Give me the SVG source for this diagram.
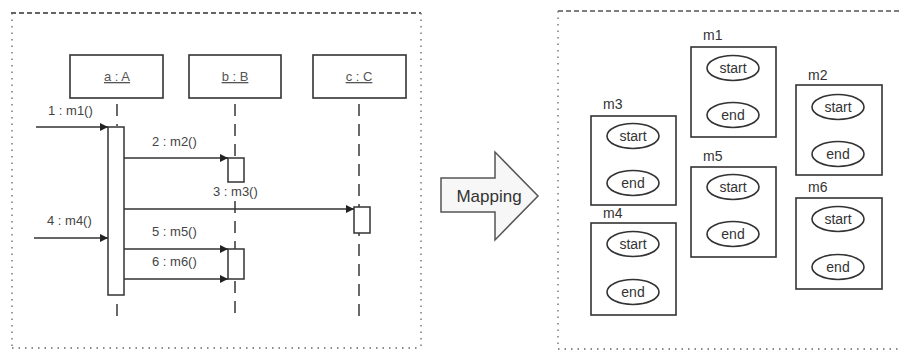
<svg xmlns="http://www.w3.org/2000/svg" width="901" height="351" viewBox="0 0 901 351">
<defs>
<marker id="ah" viewBox="0 0 10 10" refX="10" refY="5" markerWidth="8" markerHeight="8" markerUnits="userSpaceOnUse" orient="auto">
<path d="M0,0 L10,5 L0,10 z" fill="#222"/>
</marker>
<style>
.frame-top{fill:none;stroke:#333;stroke-width:1.3;stroke-dasharray:5 3}
.frame-side{fill:none;stroke:#666;stroke-width:1.3;stroke-dasharray:1.5 5}
.box{fill:#fff;stroke:#333;stroke-width:1.6}
.life{fill:none;stroke:#444;stroke-width:1.6;stroke-dasharray:12 8}
.act{fill:#fff;stroke:#333;stroke-width:1.5}
.msg{fill:none;stroke:#333;stroke-width:1.5;marker-end:url(#ah)}
.lbl{font-family:"Liberation Sans",Arial,sans-serif;font-size:13px;fill:#444}
.obj{font-family:"Liberation Sans",Arial,sans-serif;font-size:13px;fill:#555;text-decoration:underline;text-anchor:middle}
.mbox{fill:#fff;stroke:#333;stroke-width:1.6}
.ell{fill:#fff;stroke:#333;stroke-width:1.6}
.etxt{font-family:"Liberation Sans",Arial,sans-serif;font-size:14px;fill:#333;text-anchor:middle}
.mlbl{font-family:"Liberation Sans",Arial,sans-serif;font-size:14px;fill:#333}
</style>
</defs>
<rect width="901" height="351" fill="#fff"/>

<g id="left-frame">
<line class="frame-top" x1="11" y1="13" x2="421" y2="13"/>
<line class="frame-side" x1="12" y1="13" x2="12" y2="348"/>
<line class="frame-side" x1="421" y1="13" x2="421" y2="348"/>
<line class="frame-side" x1="12" y1="348" x2="421" y2="348"/>
</g>

<g id="right-frame">
<line class="frame-top" x1="558" y1="11" x2="901" y2="11" style="stroke:#555"/>
<line class="frame-side" x1="558" y1="11" x2="558" y2="349"/>
<line class="frame-side" x1="558" y1="349" x2="901" y2="349"/>
</g>

<g id="lifelines">
<line class="life" x1="117" y1="104" x2="117" y2="126"/>
<line class="life" x1="117" y1="304" x2="117" y2="320"/>
<line class="life" x1="235" y1="104" x2="235" y2="158"/>
<line class="life" x1="235" y1="201" x2="235" y2="320"/>
<line class="life" x1="359" y1="104" x2="359" y2="320"/>
</g>

<g id="obj-a"><rect class="box" x="70" y="55" width="93" height="43"/><text class="obj" x="117" y="81">a : A</text></g>
<g id="obj-b"><rect class="box" x="189" y="55" width="92" height="43"/><text class="obj" x="235" y="81">b : B</text></g>
<g id="obj-c"><rect class="box" x="313" y="55" width="93" height="43"/><text class="obj" x="359" y="81">c : C</text></g>

<g id="act-a"><rect class="act" x="108" y="127" width="16" height="168"/></g>
<g id="act-b1"><rect class="act" x="228" y="158" width="16" height="24"/></g>
<g id="act-b2"><rect class="act" x="228" y="249" width="16" height="30"/></g>
<g id="act-c"><rect class="act" x="354" y="207" width="16" height="26"/></g>

<g id="connectors">
<line class="msg" x1="36" y1="127" x2="108" y2="127"/>
<line class="msg" x1="124" y1="158" x2="228" y2="158"/>
<line class="msg" x1="124" y1="209" x2="354" y2="209"/>
<line class="msg" x1="34" y1="238" x2="108" y2="238"/>
<line class="msg" x1="124" y1="249" x2="228" y2="249"/>
<line class="msg" x1="124" y1="279" x2="228" y2="279"/>
</g>

<g id="msg-labels">
<text class="lbl" x="48" y="115">1 : m1()</text>
<text class="lbl" x="152" y="146">2 : m2()</text>
<text class="lbl" x="213" y="196">3 : m3()</text>
<text class="lbl" x="47" y="225">4 : m4()</text>
<text class="lbl" x="152" y="236">5 : m5()</text>
<text class="lbl" x="152" y="266">6 : m6()</text>
</g>

<g id="mapping-arrow">
<path d="M441,178 L495,178 L495,152 L538,196 L495,240 L495,212 L441,212 Z" fill="#f7f7f7" stroke="#555" stroke-width="1.5"/>
<text x="489" y="202" font-family="Liberation Sans, Arial, sans-serif" font-size="17" fill="#333" text-anchor="middle">Mapping</text>
</g>

<g id="m1">
<text class="mlbl" x="703" y="40">m1</text>
<rect class="mbox" x="691" y="47" width="85" height="90"/>
<ellipse class="ell" cx="733" cy="68" rx="26" ry="12.5"/><text class="etxt" x="733" y="73">start</text>
<ellipse class="ell" cx="733" cy="115" rx="26" ry="12.5"/><text class="etxt" x="733" y="120">end</text>
</g>
<g id="m2">
<text class="mlbl" x="808" y="80">m2</text>
<rect class="mbox" x="796" y="85" width="86" height="90"/>
<ellipse class="ell" cx="838" cy="107" rx="26" ry="12.5"/><text class="etxt" x="838" y="112">start</text>
<ellipse class="ell" cx="838" cy="154" rx="26" ry="12.5"/><text class="etxt" x="838" y="159">end</text>
</g>
<g id="m3">
<text class="mlbl" x="603" y="109">m3</text>
<rect class="mbox" x="591" y="116" width="85" height="89"/>
<ellipse class="ell" cx="633" cy="136" rx="26" ry="12.5"/><text class="etxt" x="633" y="141">start</text>
<ellipse class="ell" cx="633" cy="183" rx="26" ry="12.5"/><text class="etxt" x="633" y="188">end</text>
</g>
<g id="m5">
<text class="mlbl" x="703" y="161">m5</text>
<rect class="mbox" x="691" y="167" width="85" height="90"/>
<ellipse class="ell" cx="733" cy="187" rx="26" ry="12.5"/><text class="etxt" x="733" y="192">start</text>
<ellipse class="ell" cx="733" cy="234" rx="26" ry="12.5"/><text class="etxt" x="733" y="239">end</text>
</g>
<g id="m4">
<text class="mlbl" x="603" y="218">m4</text>
<rect class="mbox" x="591" y="223" width="85" height="92"/>
<ellipse class="ell" cx="633" cy="244" rx="26" ry="12.5"/><text class="etxt" x="633" y="249">start</text>
<ellipse class="ell" cx="633" cy="292" rx="26" ry="12.5"/><text class="etxt" x="633" y="297">end</text>
</g>
<g id="m6">
<text class="mlbl" x="808" y="192">m6</text>
<rect class="mbox" x="796" y="198" width="86" height="91"/>
<ellipse class="ell" cx="838" cy="219" rx="26" ry="12.5"/><text class="etxt" x="838" y="224">start</text>
<ellipse class="ell" cx="838" cy="267" rx="26" ry="12.5"/><text class="etxt" x="838" y="272">end</text>
</g>
</svg>
